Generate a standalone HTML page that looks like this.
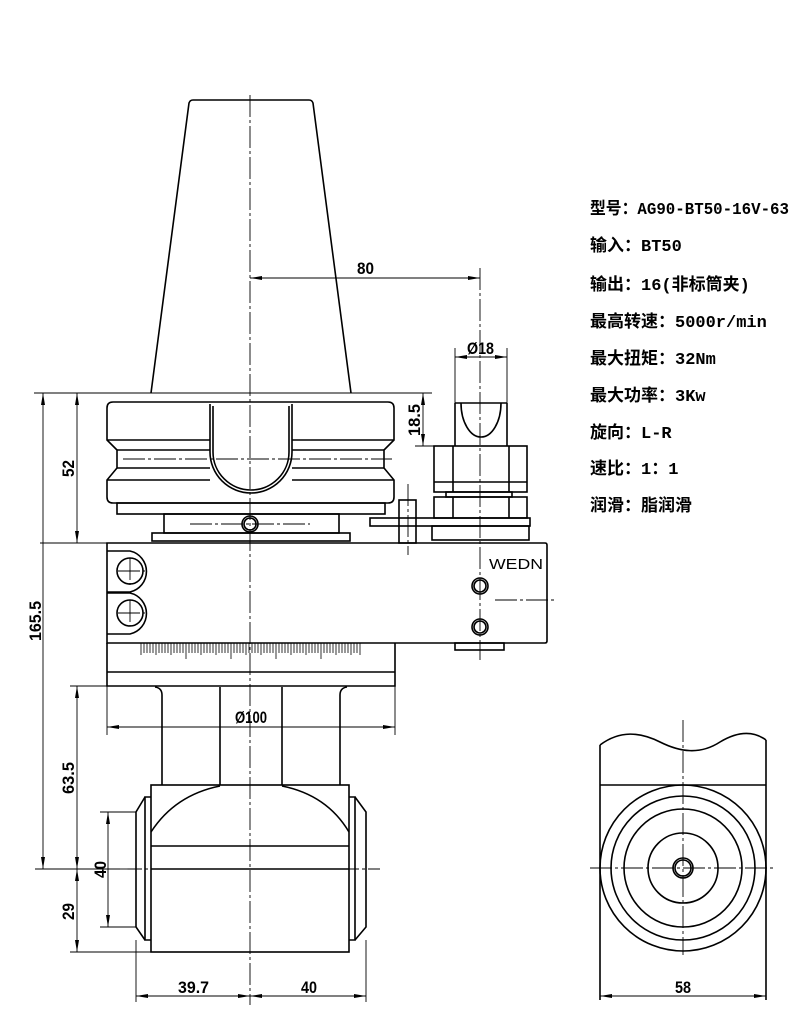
<!DOCTYPE html>
<html><head><meta charset="utf-8"><style>
html,body{margin:0;padding:0;background:#fff;}
svg{display:block;}
.t{font-family:"Liberation Mono","Noto Sans CJK SC",monospace;font-weight:bold;font-size:17px;fill:#000;}
.d{font-family:"Liberation Sans",sans-serif;font-weight:bold;font-size:17px;fill:#000;}
</style></head><body>
<svg width="800" height="1020" viewBox="0 0 800 1020" xmlns="http://www.w3.org/2000/svg">
<defs>
<marker id="a" viewBox="0 0 12 4" refX="12" refY="2" markerWidth="12" markerHeight="4" orient="auto-start-reverse" markerUnits="userSpaceOnUse"><path d="M0,0 L12,2 L0,4 z" fill="#000"/></marker>
</defs>
<g fill="none" stroke="#000" stroke-width="1.6">
<path d="M151,393 L189,103 Q190,100 193,100 L309,100 Q312,100 313,103 L351,393"/>
<path d="M113,402 L388,402 Q394,402 394,408 L394,440 L384,450 L384,468 L394,480 L394,497 Q394,503 388,503 L113,503 Q107,503 107,497 L107,480 L117,468 L117,450 L107,440 L107,408 Q107,402 113,402 Z"/>
<line x1="107" y1="440" x2="210" y2="440"/><line x1="292" y1="440" x2="394" y2="440"/>
<line x1="117" y1="450" x2="210" y2="450"/><line x1="292" y1="450" x2="384" y2="450"/>
<line x1="117" y1="468" x2="210" y2="468"/><line x1="292" y1="468" x2="384" y2="468"/>
<line x1="107" y1="480" x2="210" y2="480"/><line x1="292" y1="480" x2="394" y2="480"/>
<path d="M210,404 L210,452 A41,41 0 0 0 292,452 L292,404" fill="#fff"/>
<path d="M213,406 L213,452 A38,38 0 0 0 289,452 L289,406"/>
<rect x="117" y="503" width="268" height="11"/>
<rect x="164" y="514" width="175" height="19"/>
<rect x="152" y="533" width="198" height="8"/>
<circle cx="250" cy="524" r="8"/><circle cx="250" cy="524" r="6"/>
<path d="M107,543 L545,543 Q547,543 547,545 L547,641 Q547,643 545,643 L107,643 Z"/>
<path d="M107,551 L130,551 A21,21 0 0 1 130,592 L107,592"/>
<path d="M107,593 L130,593 A21,21 0 0 1 130,634 L107,634"/>
<circle cx="130" cy="571" r="13"/><circle cx="130" cy="613" r="13"/>
<circle cx="480" cy="586" r="8"/><circle cx="480" cy="586" r="6"/>
<circle cx="480" cy="627" r="8"/><circle cx="480" cy="627" r="6"/>
<rect x="455" y="643" width="49" height="7"/>
<path d="M107,643 L107,686 L395,686 L395,643"/>
<line x1="107" y1="672" x2="395" y2="672"/>
<rect x="399" y="500" width="17" height="43"/>
<rect x="370" y="518" width="160" height="8"/>
<rect x="432" y="526" width="97" height="14"/>
<rect x="434" y="446" width="93" height="46"/>
<line x1="453" y1="446" x2="453" y2="492"/><line x1="509" y1="446" x2="509" y2="492"/>
<line x1="434" y1="482" x2="527" y2="482"/>
<rect x="446" y="492" width="66" height="5"/>
<rect x="434" y="497" width="93" height="21"/>
<line x1="453" y1="497" x2="453" y2="518"/><line x1="509" y1="497" x2="509" y2="518"/>
<line x1="455" y1="403" x2="455" y2="446"/><line x1="507" y1="403" x2="507" y2="446"/>
<line x1="455" y1="403" x2="507" y2="403"/>
<path d="M461,403 A20,34 0 0 0 501,403"/>
<path d="M155,687 Q162,688 162,695 L162,785"/><line x1="220" y1="687" x2="220" y2="785"/>
<path d="M347,687 Q340,688 340,695 L340,785"/><line x1="282" y1="687" x2="282" y2="785"/>
<rect x="151" y="785" width="198" height="167"/>
<path d="M220,786 Q175,795 151,832"/><path d="M282,786 Q327,795 349,832"/>
<line x1="151" y1="846" x2="349" y2="846"/><line x1="151" y1="869" x2="349" y2="869"/>
<path d="M151,797 L145,797 L145,940 L151,940"/><path d="M145,797 L136,812 L136,927 L145,940"/>
<path d="M349,797 L355,797 L355,940 L349,940"/><path d="M355,797 L366,812 L366,927 L355,940"/>
<path d="M600,745 C620,730 640,732 660,742 C680,752 700,755 720,742 C740,730 755,732 766,740"/>
<line x1="600" y1="745" x2="600" y2="1000"/><line x1="766" y1="740" x2="766" y2="1000"/>
<line x1="600" y1="785" x2="766" y2="785"/>
<circle cx="683" cy="868" r="83"/><circle cx="683" cy="868" r="72"/><circle cx="683" cy="868" r="59"/><circle cx="683" cy="868" r="35"/>
<circle cx="683" cy="868" r="10"/><circle cx="683" cy="868" r="8"/>
</g>
<g stroke="#000" stroke-width="0.8">
<path d="M141,643 v12 M144,643 v10 M147,643 v10 M150,643 v10 M153,643 v10 M156,643 v12 M159,643 v10 M162,643 v10 M165,643 v10 M168,643 v10 M171,643 v12 M174,643 v10 M177,643 v10 M180,643 v10 M183,643 v10 M186,643 v16 M189,643 v10 M192,643 v10 M195,643 v10 M198,643 v10 M201,643 v12 M204,643 v10 M207,643 v10 M210,643 v10 M213,643 v10 M216,643 v12 M219,643 v10 M222,643 v10 M225,643 v10 M228,643 v10 M231,643 v16 M234,643 v10 M237,643 v10 M240,643 v10 M243,643 v10 M246,643 v12 M249,643 v10 M252,643 v10 M255,643 v10 M258,643 v10 M261,643 v12 M264,643 v10 M267,643 v10 M270,643 v10 M273,643 v10 M276,643 v16 M279,643 v10 M282,643 v10 M285,643 v10 M288,643 v10 M291,643 v12 M294,643 v10 M297,643 v10 M300,643 v10 M303,643 v10 M306,643 v12 M309,643 v10 M312,643 v10 M315,643 v10 M318,643 v10 M321,643 v16 M324,643 v10 M327,643 v10 M330,643 v10 M333,643 v10 M336,643 v12 M339,643 v10 M342,643 v10 M345,643 v10 M348,643 v10 M351,643 v12 M354,643 v10 M357,643 v10 M360,643 v12"/>
</g>
<g stroke="#000" stroke-width="0.9" fill="none" stroke-dasharray="22,3,3,3">
<line x1="250" y1="95" x2="250" y2="1005"/>
<line x1="480" y1="268" x2="480" y2="660"/>
<line x1="123" y1="459" x2="392" y2="459"/>
<line x1="408" y1="484" x2="408" y2="555"/>
<line x1="495" y1="600" x2="557" y2="600"/>
<line x1="118" y1="571" x2="145" y2="571"/><line x1="130" y1="558" x2="130" y2="585"/>
<line x1="118" y1="613" x2="145" y2="613"/><line x1="130" y1="600" x2="130" y2="626"/>
<line x1="190" y1="524" x2="310" y2="524"/>
<line x1="683" y1="720" x2="683" y2="955"/>
<line x1="590" y1="868" x2="776" y2="868"/>
<line x1="120" y1="869" x2="380" y2="869"/>
</g>
<g stroke="#000" stroke-width="0.9" fill="none">
<line x1="34" y1="393" x2="432" y2="393"/>
<line x1="40" y1="543" x2="107" y2="543"/>
<line x1="70" y1="686" x2="107" y2="686"/>
<line x1="35" y1="869" x2="120" y2="869"/>
<line x1="70" y1="952" x2="151" y2="952"/>
<line x1="100" y1="812" x2="136" y2="812"/><line x1="100" y1="927" x2="136" y2="927"/>
<line x1="43" y1="393" x2="43" y2="869" marker-start="url(#a)" marker-end="url(#a)"/>
<line x1="77" y1="393" x2="77" y2="543" marker-start="url(#a)" marker-end="url(#a)"/>
<line x1="77" y1="686" x2="77" y2="869" marker-start="url(#a)" marker-end="url(#a)"/>
<line x1="77" y1="869" x2="77" y2="952" marker-start="url(#a)" marker-end="url(#a)"/>
<line x1="108" y1="812" x2="108" y2="927" marker-start="url(#a)" marker-end="url(#a)"/>
<line x1="250" y1="278" x2="480" y2="278" marker-start="url(#a)" marker-end="url(#a)"/>
<line x1="455" y1="348" x2="455" y2="403"/><line x1="507" y1="348" x2="507" y2="403"/>
<line x1="455" y1="357" x2="507" y2="357" marker-start="url(#a)" marker-end="url(#a)"/>
<line x1="415" y1="446" x2="434" y2="446"/>
<line x1="423" y1="393" x2="423" y2="446" marker-start="url(#a)" marker-end="url(#a)"/>
<line x1="107" y1="686" x2="107" y2="735"/><line x1="395" y1="686" x2="395" y2="735"/>
<line x1="107" y1="727" x2="395" y2="727" marker-start="url(#a)" marker-end="url(#a)"/>
<line x1="136" y1="940" x2="136" y2="1002"/><line x1="366" y1="940" x2="366" y2="1002"/>
<line x1="136" y1="996" x2="250" y2="996" marker-start="url(#a)" marker-end="url(#a)"/>
<line x1="250" y1="996" x2="366" y2="996" marker-start="url(#a)" marker-end="url(#a)"/>
<line x1="600" y1="996" x2="766" y2="996" marker-start="url(#a)" marker-end="url(#a)"/>
</g>
<g class="d">
<text x="357" y="274" textLength="17" lengthAdjust="spacingAndGlyphs">80</text>
<text x="467" y="354" textLength="27" lengthAdjust="spacingAndGlyphs">Ø18</text>
<text x="235" y="723" textLength="32" lengthAdjust="spacingAndGlyphs">Ø100</text>
<text x="178" y="993" textLength="31" lengthAdjust="spacingAndGlyphs">39.7</text>
<text x="301" y="993" textLength="16" lengthAdjust="spacingAndGlyphs">40</text>
<text x="675" y="993" textLength="16" lengthAdjust="spacingAndGlyphs">58</text>
<text transform="translate(74,477) rotate(-90)" textLength="17" lengthAdjust="spacingAndGlyphs">52</text>
<text transform="translate(41,641) rotate(-90)" textLength="40" lengthAdjust="spacingAndGlyphs">165.5</text>
<text transform="translate(74,794) rotate(-90)" textLength="32" lengthAdjust="spacingAndGlyphs">63.5</text>
<text transform="translate(106,878) rotate(-90)" textLength="17" lengthAdjust="spacingAndGlyphs">40</text>
<text transform="translate(74,920) rotate(-90)" textLength="17" lengthAdjust="spacingAndGlyphs">29</text>
<text transform="translate(420,436) rotate(-90)" textLength="32" lengthAdjust="spacingAndGlyphs">18.5</text>
<text x="489" y="569" font-size="15" textLength="54" lengthAdjust="spacingAndGlyphs" style="font-weight:normal">WEDN</text>
</g>
<g class="t">
<text x="590" y="214" textLength="199" lengthAdjust="spacingAndGlyphs">型号：AG90-BT50-16V-63</text>
<text x="590" y="251">输入：BT50</text>
<text x="590" y="290">输出：16(非标筒夹)</text>
<text x="590" y="327">最高转速：5000r/min</text>
<text x="590" y="364">最大扭矩：32Nm</text>
<text x="590" y="401">最大功率：3Kw</text>
<text x="590" y="438">旋向：L-R</text>
<text x="590" y="474">速比：1：1</text>
<text x="590" y="511">润滑：脂润滑</text>
</g>
</svg>
</body></html>
